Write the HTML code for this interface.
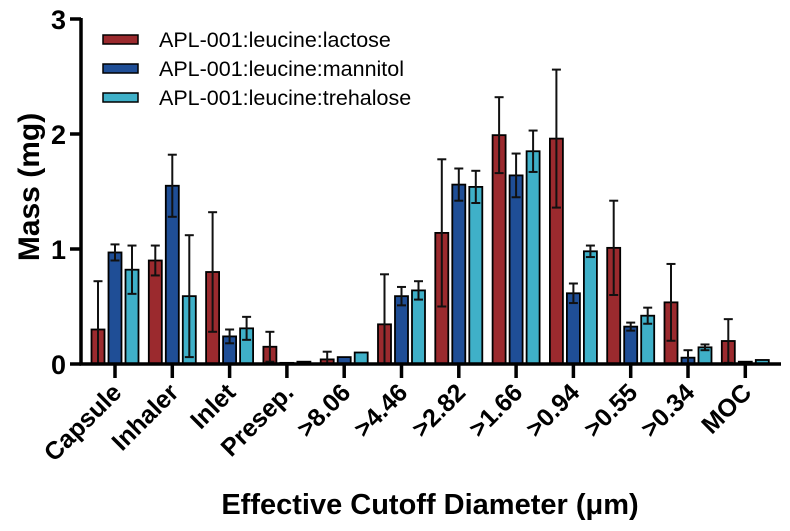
<!DOCTYPE html>
<html><head><meta charset="utf-8"><style>
html,body{margin:0;padding:0;background:#fff;}
svg{display:block;font-family:"Liberation Sans",Arial,sans-serif;}
</style></head><body>
<svg id="c" width="790" height="531" viewBox="0 0 790 531" xmlns="http://www.w3.org/2000/svg">
<g id="bars"></g>
<line x1="81" y1="18" x2="81" y2="365.5" stroke="#000" stroke-width="3.5"/>
<line x1="79.5" y1="364" x2="781" y2="364" stroke="#000" stroke-width="3.5"/>
<g stroke="#000" stroke-width="3.5">
<line x1="70" y1="19" x2="81" y2="19"/><line x1="70" y1="134" x2="81" y2="134"/>
<line x1="70" y1="249" x2="81" y2="249"/><line x1="70" y1="364" x2="81" y2="364"/>
</g>
<g font-size="27" font-weight="bold" text-anchor="end">
<text x="66" y="29">3</text><text x="66" y="144">2</text><text x="66" y="259">1</text><text x="66" y="374">0</text>
</g>
<text transform="translate(39,187) rotate(-90)" font-size="30" font-weight="bold" text-anchor="middle">Mass (mg)</text>
<text x="430" y="514" font-size="29" font-weight="bold" text-anchor="middle">Effective Cutoff Diameter (μm)</text>
<g font-size="25" font-weight="bold" text-anchor="end">
<text transform="translate(123,394) rotate(-45)">Capsule</text>
<text transform="translate(180,394) rotate(-45)">Inhaler</text>
<text transform="translate(237,394) rotate(-45)">Inlet</text>
<text transform="translate(295,394) rotate(-45)">Presep.</text>
<text transform="translate(352,394) rotate(-45)">&gt;8.06</text>
<text transform="translate(409,394) rotate(-45)">&gt;4.46</text>
<text transform="translate(467,394) rotate(-45)">&gt;2.82</text>
<text transform="translate(524,394) rotate(-45)">&gt;1.66</text>
<text transform="translate(581,394) rotate(-45)">&gt;0.94</text>
<text transform="translate(639,394) rotate(-45)">&gt;0.55</text>
<text transform="translate(696,394) rotate(-45)">&gt;0.34</text>
<text transform="translate(753,394) rotate(-45)">MOC</text>
</g>
<g font-size="21.5">
<rect x="103" y="35" width="35" height="9" fill="#9b2a2e" stroke="#000" stroke-width="1.5"/>
<text x="159" y="47">APL-001:leucine:lactose</text>
<rect x="103" y="64" width="35" height="9" fill="#1f4e96" stroke="#000" stroke-width="1.5"/>
<text x="159" y="76">APL-001:leucine:mannitol</text>
<rect x="103" y="93" width="35" height="9" fill="#3fb0c8" stroke="#000" stroke-width="1.5"/>
<text x="159" y="105">APL-001:leucine:trehalose</text>
</g>
</svg>
<script>
var data=[
[[0.30,0.72],[0.97,1.04],[0.82,1.03]],
[[0.90,1.03],[1.55,1.82],[0.59,1.12]],
[[0.80,1.32],[0.24,0.30],[0.31,0.41]],
[[0.15,0.28],[0.01,0.01],[0.02,0.02]],
[[0.04,0.107],[0.06,0.06],[0.10,0.105]],
[[0.345,0.78],[0.59,0.67],[0.64,0.72]],
[[1.14,1.78],[1.56,1.70],[1.54,1.68]],
[[1.99,2.32],[1.64,1.83],[1.85,2.03]],
[[1.96,2.56],[0.615,0.70],[0.98,1.03]],
[[1.01,1.42],[0.325,0.36],[0.42,0.49]],
[[0.536,0.87],[0.055,0.12],[0.145,0.17]],
[[0.20,0.39],[0.02,0.02],[0.035,0.04]]];
var cols=["#9b2a2e","#1f4e96","#3fb0c8"];
var g=document.getElementById("bars"),s="";
function Y(v){return 364-115*v;}
for(var i=0;i<12;i++){var cx=115+57.3*i;
 s+='<line x1="'+cx+'" y1="364" x2="'+cx+'" y2="378" stroke="#000" stroke-width="3.5"/>';
 for(var j=0;j<3;j++){var bx=cx+(j-1)*17,v=data[i][j][0],e=data[i][j][1],d=e-v,y=Y(v);
  s+='<rect x="'+(bx-6.5)+'" y="'+y+'" width="13" height="'+(364-y)+'" fill="'+cols[j]+'" stroke="#000" stroke-width="1.8"/>';
  if(d>0.005){var y1=Y(e),y2=Y(Math.max(0,v-d));
   s+='<line x1="'+bx+'" y1="'+y1+'" x2="'+bx+'" y2="'+y2+'" stroke="#111" stroke-width="2"/>';
   s+='<line x1="'+(bx-4.5)+'" y1="'+y1+'" x2="'+(bx+4.5)+'" y2="'+y1+'" stroke="#111" stroke-width="2"/>';
   s+='<line x1="'+(bx-4.5)+'" y1="'+y2+'" x2="'+(bx+4.5)+'" y2="'+y2+'" stroke="#111" stroke-width="2"/>';}
 }}
g.innerHTML=s;
</script>
</body></html>
